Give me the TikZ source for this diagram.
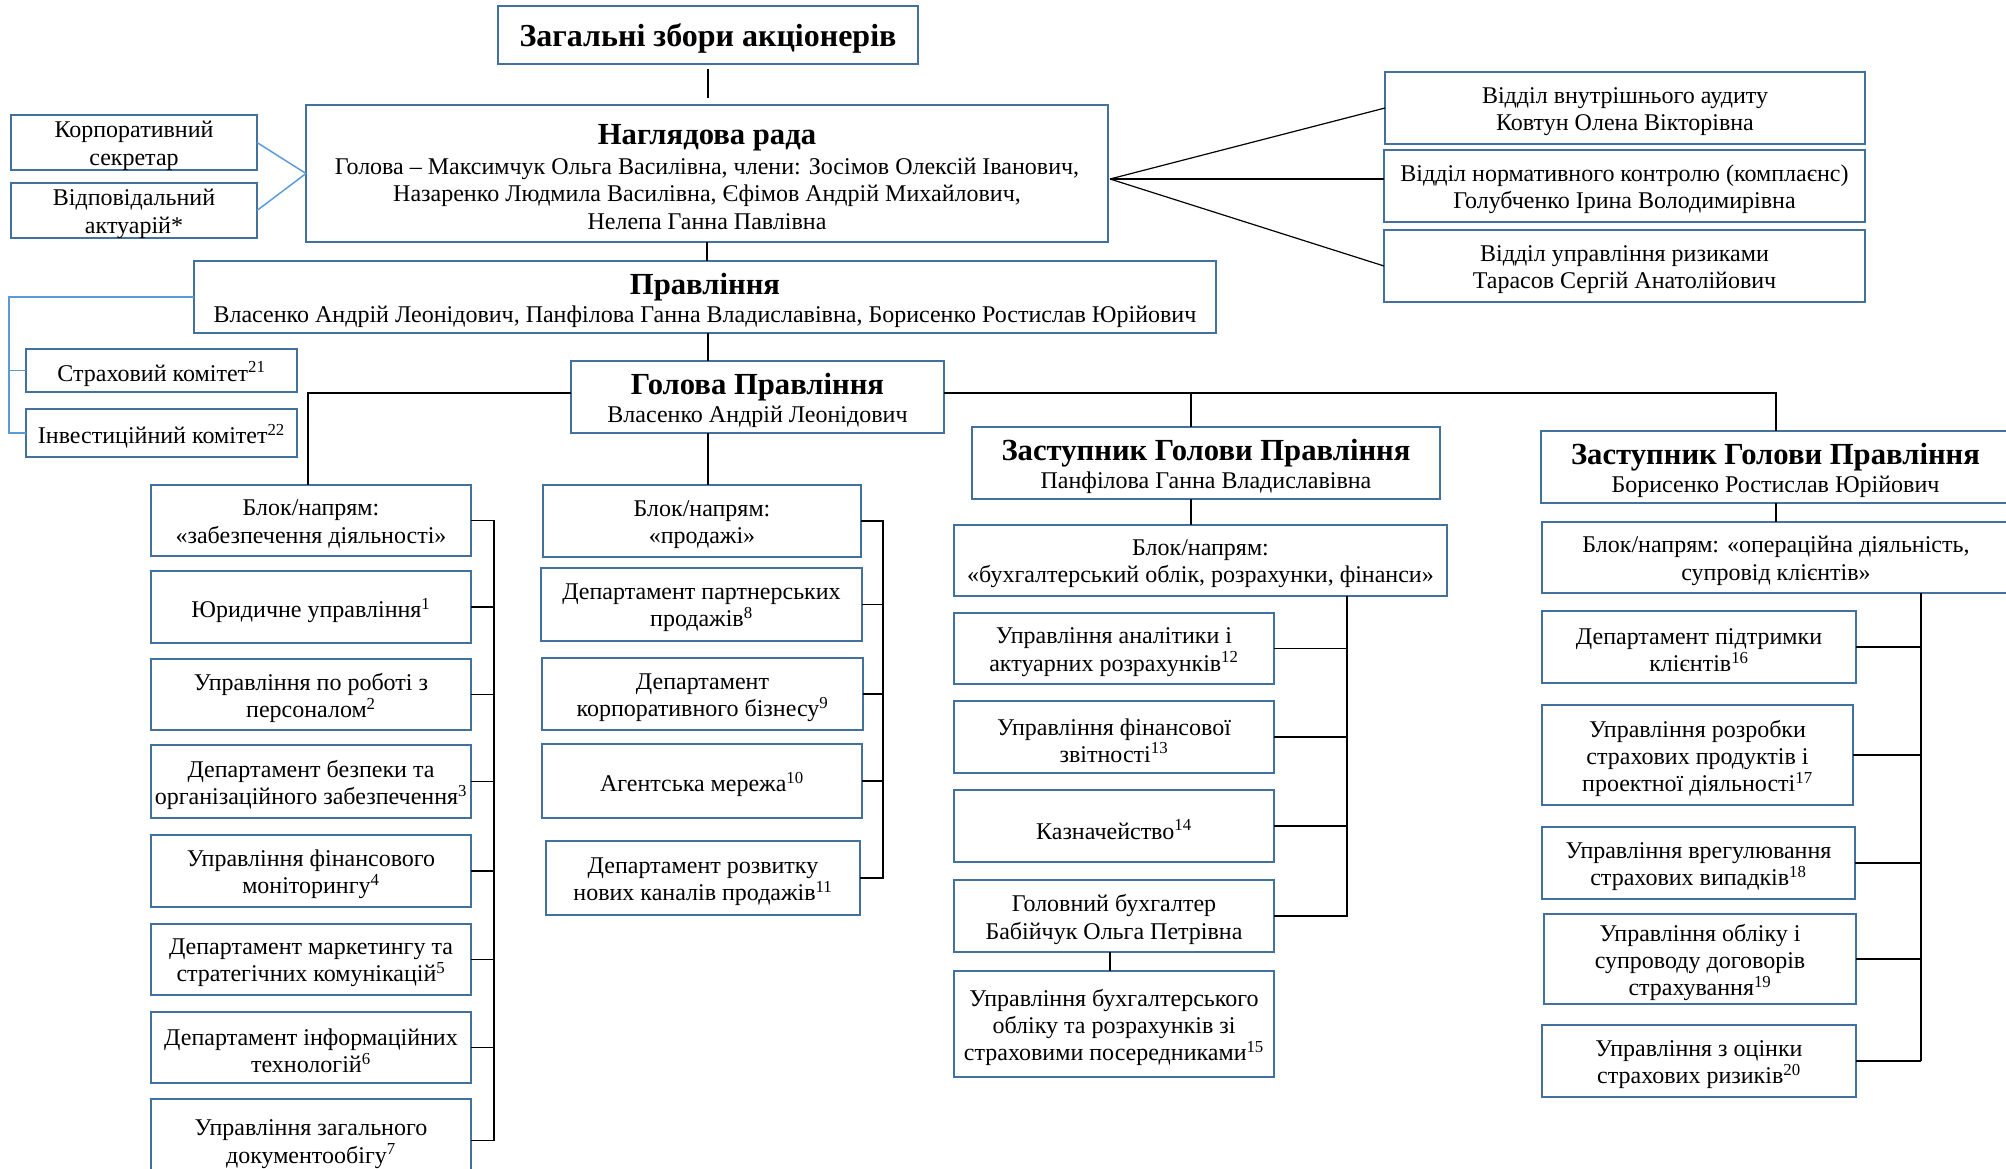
\documentclass[tikz,border=0pt]{standalone}
\usepackage{fontspec}
\setmainfont{Liberation Serif}
\definecolor{bxc}{HTML}{41719C}
\definecolor{lbl}{HTML}{5B9BD5}
\newcommand\obox[7][]{\node[bxs,minimum width={(#5-#3)*0.75pt},minimum height={(#6-#4)*0.75pt}] (#2) at ({(#3+#5)/2},{(#4+#6)/2}) {};
  \node[txs,#1] at ([yshift=-2.6pt]#2.center) {#7};}
\newcommand\ttl{\fontsize{23}{26}\selectfont\bfseries}
\tikzset{
  bxs/.style={draw=bxc,line width=1.6pt,fill=white,inner sep=0pt,outer sep=0pt},
  txs/.style={inner sep=0pt,align=center,font=\fontsize{18}{20.5}\selectfont},
  con/.style={draw=black,line width=0.9pt},
  bcon/.style={draw=lbl,line width=1.1pt}
}
\begin{document}
\begin{tikzpicture}[x=0.75pt,y=-0.75pt]
\useasboundingbox (0,0) rectangle (2006,1168);
\clip (0,0) rectangle (2006,1168);
\fill[white] (0,0) rectangle (2006,1168);
% top level
\obox[font=\fontsize{24}{27}\selectfont\bfseries]{gm}{498}{6}{918}{64}{Загальні збори акціонерів}
\obox{nr}{306}{105}{1108}{242}{{\ttl Наглядова рада}\\[2pt] Голова – Максимчук Ольга Василівна, члени: Зосімов Олексій Іванович,\\ Назаренко Людмила Василівна, Єфімов Андрій Михайлович,\\ Нелепа Ганна Павлівна}
\obox{ks}{11}{115}{257}{170}{Корпоративний\\ секретар}
\obox{va}{11}{183}{257}{238}{Відповідальний\\ актуарій*}
\obox{pr}{194}{261}{1216}{333}{{\ttl Правління}\\ Власенко Андрій Леонідович, Панфілова Ганна Владиславівна, Борисенко Ростислав Юрійович}
\obox{sk}{26}{349}{297}{392}{Страховий комітет\textsuperscript{21}}
\obox{ik}{26}{409}{297}{457}{Інвестиційний комітет\textsuperscript{22}}
\obox{gp}{571}{361}{944}{433}{{\ttl Голова Правління}\\ Власенко Андрій Леонідович}
\obox{a1}{1385}{72}{1865}{144}{Відділ внутрішнього аудиту\\ Ковтун Олена Вікторівна}
\obox{a2}{1384}{150}{1865}{222}{Відділ нормативного контролю (комплаєнс)\\ Голубченко Ірина Володимирівна}
\obox{a3}{1384}{230}{1865}{302}{Відділ управління ризиками\\ Тарасов Сергій Анатолійович}
\obox{z1}{972}{427}{1440}{499}{{\ttl Заступник Голови Правління}\\ Панфілова Ганна Владиславівна}
\obox{z2}{1541}{431}{2010}{503}{{\ttl Заступник Голови Правління}\\ Борисенко Ростислав Юрійович}
% column 1
\obox{c1b}{151}{485}{471}{556}{Блок/напрям:\\ «забезпечення діяльності»}
\obox{c1a}{151}{571}{471}{643}{Юридичне управління\textsuperscript{1}}
\obox{c1c}{151}{659}{471}{730}{Управління по роботі з\\ персоналом\textsuperscript{2}}
\obox{c1d}{151}{745}{471}{818}{Департамент безпеки та\\ організаційного забезпечення\textsuperscript{3}}
\obox{c1e}{151}{835}{471}{907}{Управління фінансового\\ моніторингу\textsuperscript{4}}
\obox{c1f}{151}{924}{471}{995}{Департамент маркетингу та\\ стратегічних комунікацій\textsuperscript{5}}
\obox{c1g}{151}{1012}{471}{1083}{Департамент інформаційних\\ технологій\textsuperscript{6}}
\obox{c1h}{151}{1099}{471}{1182}{Управління загального\\ документообігу\textsuperscript{7}}
% column 2
\obox{c2b}{543}{485}{861}{557}{Блок/напрям:\\ «продажі»}
\obox{c2a}{541}{568}{862}{641}{Департамент партнерських\\ продажів\textsuperscript{8}}
\obox{c2c}{542}{658}{863}{730}{Департамент\\ корпоративного бізнесу\textsuperscript{9}}
\obox{c2d}{542}{744}{862}{818}{Агентська мережа\textsuperscript{10}}
\obox{c2e}{546}{841}{860}{915}{Департамент розвитку\\ нових каналів продажів\textsuperscript{11}}
% column 3
\obox{c3b}{954}{525}{1447}{596}{Блок/напрям:\\ «бухгалтерський облік, розрахунки, фінанси»}
\obox{c3a}{954}{613}{1274}{684}{Управління аналітики і\\ актуарних розрахунків\textsuperscript{12}}
\obox{c3c}{954}{701}{1274}{773}{Управління фінансової\\ звітності\textsuperscript{13}}
\obox{c3d}{954}{790}{1274}{862}{Казначейство\textsuperscript{14}}
\obox{c3e}{954}{880}{1274}{952}{Головний бухгалтер\\ Бабійчук Ольга Петрівна}
\obox{c3f}{954}{971}{1274}{1077}{Управління бухгалтерського\\ обліку та розрахунків зі\\ страховими посередниками\textsuperscript{15}}
% column 4
\obox{c4b}{1542}{522}{2010}{593}{Блок/напрям: «операційна діяльність,\\ супровід клієнтів»}
\obox{c4a}{1542}{611}{1856}{683}{Департамент підтримки\\ клієнтів\textsuperscript{16}}
\obox{c4c}{1542}{705}{1853}{805}{Управління розробки\\ страхових продуктів і\\ проектної діяльності\textsuperscript{17}}
\obox{c4d}{1542}{827}{1855}{899}{Управління врегулювання\\ страхових випадків\textsuperscript{18}}
\obox{c4e}{1544}{914}{1856}{1004}{Управління обліку і\\ супроводу договорів\\ страхування\textsuperscript{19}}
\obox{c4f}{1542}{1025}{1856}{1097}{Управління з оцінки\\ страхових ризиків\textsuperscript{20}}
% helper coordinates
\coordinate (fan) at (1110,179);
\coordinate (h1) at (308,393);
\coordinate (h2) at (1776,393);
\coordinate (v1) at (1191,393);
\coordinate (bl) at (9,297);
\coordinate (br1) at (494,0);
\coordinate (br2) at (883,0);
\coordinate (br3) at (1347,0);
\coordinate (br4) at (1921,0);
\coordinate (v3) at (1110,0);
% connectors top
\draw[con,shorten <=4pt,shorten >=5pt] (gm.south) -- (gm.south |- nr.north);
\draw[con] (nr.south) -- (nr.south |- pr.north);
\draw[con] (pr.south -| gm.south) -- (gp.north -| gm.south);
\draw[con] (fan) -- (a1.west);
\draw[con] (fan) -- (a2.west |- fan);
\draw[con] (fan) -- (a3.west);
\draw[bcon] (ks.east) -- (nr.west);
\draw[bcon] (va.east) -- (nr.west);
\draw[bcon] (pr.west) -| (ik.west -| bl) -- (ik.west);
\draw[bcon] (sk.west -| bl) -- (sk.west);
% Голова to blocks
\draw[con] (gp.west |- h1) -- (h1) -- (h1 |- c1b.north);
\draw[con] (gp.east |- h2) -- (h2) -- (h2 |- z2.north);
\draw[con] (v1) -- (v1 |- z1.north);
\draw[con] (gp.south -| gm.south) -- (c2b.north -| gm.south);
\draw[con] (z1.south -| v1) -- (c3b.north -| v1);
\draw[con] (z2.south -| h2) -- (c4b.north -| h2);
% column 1 bracket
\draw[con] (c1b.east) -- (c1b.east -| br1) -- (c1h.east -| br1) -- (c1h.east);
\foreach \n in {c1a,c1c,c1d,c1e,c1f,c1g} \draw[con] (\n.east) -- (\n.east -| br1);
% column 2 bracket
\draw[con] (c2b.east) -- (c2b.east -| br2) -- (c2e.east -| br2) -- (c2e.east);
\foreach \n in {c2a,c2c,c2d} \draw[con] (\n.east) -- (\n.east -| br2);
% column 3 bracket
\draw[con] (c3b.south -| br3) -- (c3e.east -| br3) -- (c3e.east);
\foreach \n in {c3a,c3c,c3d} \draw[con] (\n.east) -- (\n.east -| br3);
\draw[con] (c3e.south -| v3) -- (c3f.north -| v3);
% column 4 bracket
\draw[con] (c4b.south -| br4) -- (c4f.east -| br4);
\foreach \n in {c4a,c4c,c4d,c4e,c4f} \draw[con] (\n.east) -- (\n.east -| br4);
\end{tikzpicture}
\end{document}
